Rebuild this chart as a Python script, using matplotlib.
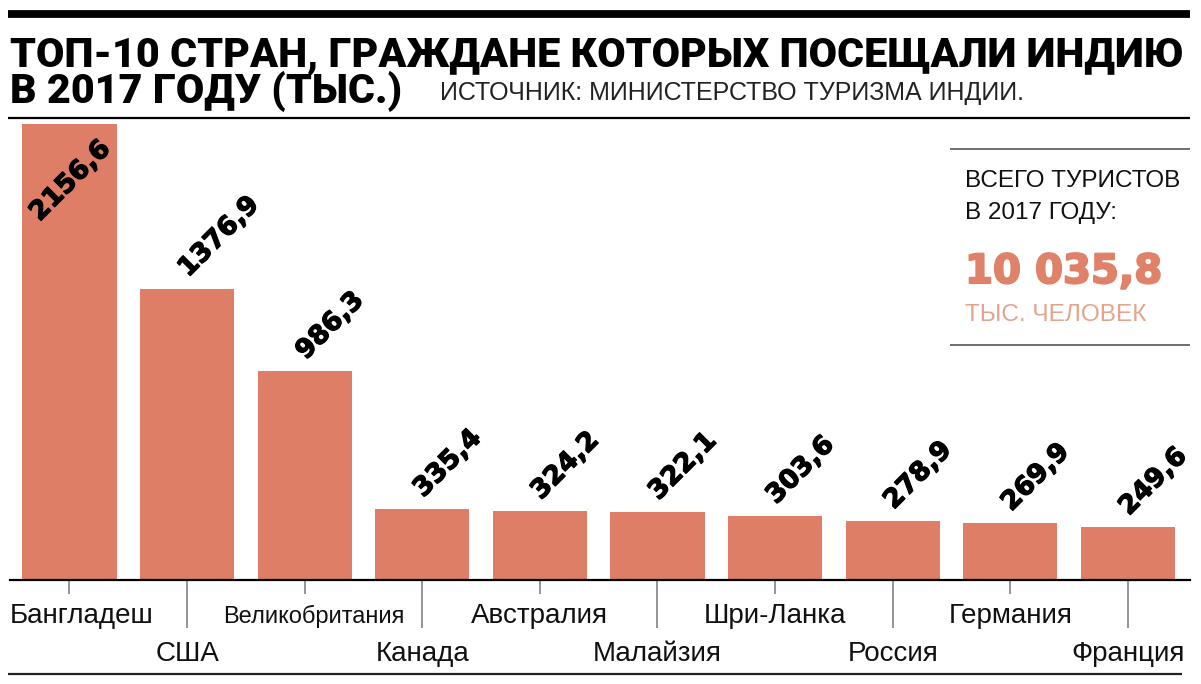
import matplotlib
matplotlib.use('Agg')
import matplotlib.pyplot as plt
from matplotlib.lines import Line2D
from matplotlib.transforms import blended_transform_factory
from matplotlib.font_manager import FontProperties, findfont
import matplotlib.patheffects as pe

W, H = 1201, 684

countries = ['Бангладеш', 'США', 'Великобритания', 'Канада', 'Австралия',
             'Малайзия', 'Шри-Ланка', 'Россия', 'Германия', 'Франция']
values = [2156.6, 1376.9, 986.3, 335.4, 324.2, 322.1, 303.6, 278.9, 269.9, 249.6]
value_labels = ['2156,6', '1376,9', '986,3', '335,4', '324,2',
                '322,1', '303,6', '278,9', '269,9', '249,6']
title_line1 = 'ТОП-10 СТРАН, ГРАЖДАНЕ КОТОРЫХ ПОСЕЩАЛИ ИНДИЮ'
title_line2 = 'В 2017 ГОДУ (ТЫС.)'
source_text = 'ИСТОЧНИК: МИНИСТЕРСТВО ТУРИЗМА ИНДИИ.'
total_caption = ['ВСЕГО ТУРИСТОВ', 'В 2017 ГОДУ:']
total_value = '10 035,8'
total_unit = 'ТЫС. ЧЕЛОВЕК'

BAR = '#DE7E67'
BIG = '#E0826A'
LIGHT = '#E3A48F'

fig = plt.figure(figsize=(W / 100, H / 100), dpi=100)
renderer = fig.canvas.get_renderer()


def fx(x):
    return x / W


def fy(y):
    return 1 - y / H


def hline(x0, x1, y, lw, color='black'):
    fig.add_artist(Line2D([fx(x0), fx(x1)], [fy(y), fy(y)], transform=fig.transFigure,
                          color=color, lw=lw, solid_capstyle='butt'))


def fit(t, target_w):
    w = t.get_window_extent(renderer).width
    t.set_fontsize(t.get_fontsize() * target_w / w)
    return t.get_fontsize()


# pick a narrow font for the long label, if one is installed
narrow = None
for fam, st in [('Liberation Sans Narrow', 'normal'), ('Noto Sans', 'condensed'),
                ('Open Sans', 'condensed'), ('Roboto', 'condensed')]:
    try:
        f = findfont(FontProperties(family=fam, stretch=st), fallback_to_default=False)
        name = f.lower()
        if 'narrow' in name or 'condensed' in name:
            narrow = (fam, st)
            break
    except Exception:
        pass

# --- axes ---
px_per_unit = (580 - 124) / 2156.6
ymax = 2200
ax = fig.add_axes([fx(10), fy(580), 1180 / W, ymax * px_per_unit / H])
spacing = 117.6
left = -(69.5 - 10) / spacing
right = left + 1180 / spacing
xs = list(range(len(countries)))
ax.bar(xs, values, width=0.8, color=BAR, zorder=2)
ax.set_xlim(left, right)
ax.set_ylim(0, ymax)
for s in ['top', 'right', 'left']:
    ax.spines[s].set_visible(False)
ax.spines['bottom'].set_linewidth(1.6)
ax.spines['bottom'].set_color('black')
ax.set_yticks([])
ax.set_xticks([i for i in xs if i % 2 == 1])
ax.set_xticks([i for i in xs if i % 2 == 0], minor=True)
ax.tick_params(axis='x', which='major', length=48 * 0.72, width=1.1, color='#777777',
               labelbottom=False)
ax.tick_params(axis='x', which='minor', length=14 * 0.72, width=1.1, color='#777777',
               labelbottom=False)
ax.patch.set_alpha(0)

# value labels
heavy = [pe.withStroke(linewidth=0.9, foreground='black')]
for i, (v, lbl) in enumerate(zip(values, value_labels)):
    if i == 0:
        off = (-30, -98)
    else:
        off = (1, 11)
    ax.annotate(lbl, xy=(i, v), xytext=off, textcoords='offset pixels',
                rotation=45, rotation_mode='anchor', ha='left', va='baseline',
                fontsize=19, fontweight='bold', family='DejaVu Sans', color='black',
                zorder=3, path_effects=heavy)

# category labels
tr = blended_transform_factory(ax.transData, fig.transFigure)
for i, c in enumerate(countries):
    yb = fy(623) if i % 2 == 0 else fy(661)
    if i == 0:
        ax.text(left, yb, c, transform=tr, ha='left', va='baseline', fontsize=20,
                family='Liberation Sans', color='#111111')
    elif c == 'Великобритания':
        if narrow is not None:
            t = ax.text(i + 0.08, yb, c, transform=tr, ha='center', va='baseline',
                        fontsize=20, family=narrow[0], fontstretch=narrow[1],
                        color='#111111')
            fit(t, 164)
        else:
            ax.text(i + 0.08, yb, c, transform=tr, ha='center', va='baseline',
                    fontsize=17, family='Liberation Sans', color='#111111')
    else:
        ax.text(i, yb, c, transform=tr, ha='center', va='baseline', fontsize=20,
                family='Liberation Sans', color='#111111')

# --- header ---
hline(8, 1190, 13.5, 5.6)
hline(8, 1190, 118, 1.6)
hline(8, 1182, 674, 1.6, '#222222')

t1 = fig.text(fx(10), fy(66), title_line1, fontsize=30, fontweight='black',
              family=['Roboto', 'DejaVu Sans'], ha='left', va='baseline')
fs = fit(t1, 1175)
fig.text(fx(10), fy(103), title_line2, fontsize=fs, fontweight='black',
         family=['Roboto', 'DejaVu Sans'], ha='left', va='baseline')
ts = fig.text(fx(440), fy(100), source_text, fontsize=17, family='Liberation Sans',
              ha='left', va='baseline', color='#222222')
fit(ts, 585)

# --- total box ---
hline(950, 1190, 149, 1.2, '#555555')
hline(950, 1190, 345, 1.2, '#555555')
t = fig.text(fx(965), fy(187), total_caption[0], fontsize=17, family='Liberation Sans',
             ha='left', va='baseline', color='#111111')
fit(t, 215)
capfs = t.get_fontsize()
fig.text(fx(965), fy(219), total_caption[1], fontsize=capfs, family='Liberation Sans',
         ha='left', va='baseline', color='#111111')
t = fig.text(fx(965), fy(283), total_value, fontsize=29, fontweight='bold',
             family='DejaVu Sans', ha='left', va='baseline', color=BIG,
             path_effects=[pe.withStroke(linewidth=1.5, foreground=BIG)])
fit(t, 197)
t = fig.text(fx(965), fy(321), total_unit, fontsize=17, family='Liberation Sans',
             ha='left', va='baseline', color=LIGHT)
fit(t, 182)

fig.savefig('out.png', dpi=100)
